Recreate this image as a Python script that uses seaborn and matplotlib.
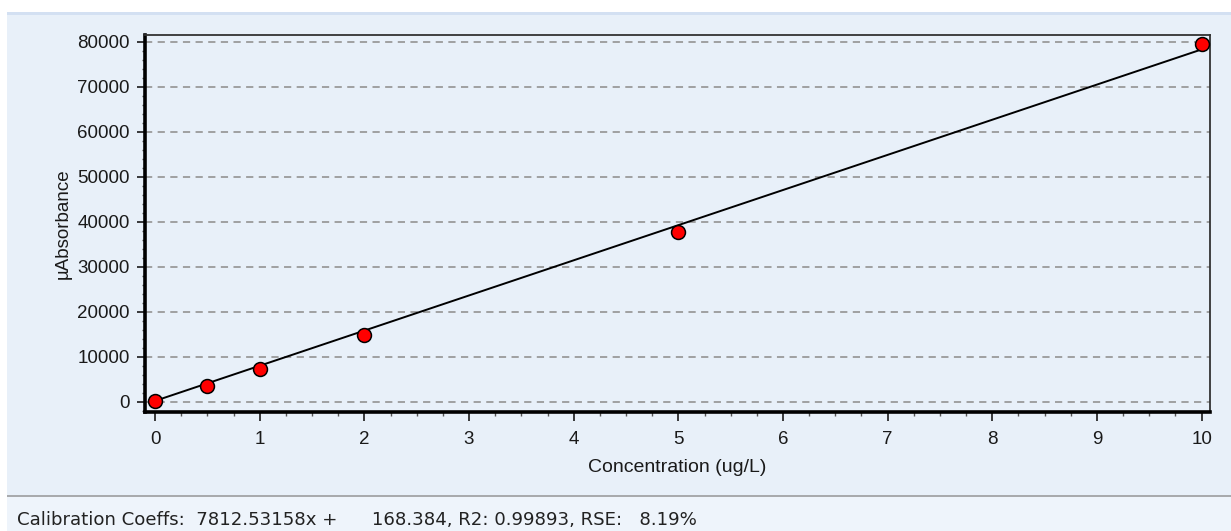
import numpy as np
import pandas as pd
import matplotlib
matplotlib.use("Agg")
import matplotlib.pyplot as plt
from matplotlib.patches import Rectangle
from matplotlib.ticker import MultipleLocator
import seaborn as sns

# ---- data ----
concentration = [0, 0.5, 1, 2, 5, 10]
absorbance = [50, 3400, 7150, 14900, 37800, 79400]
slope = 7812.53158
intercept = 168.384
fit_x = [0, 10]
x_ticks = [0, 1, 2, 3, 4, 5, 6, 7, 8, 9, 10]
y_ticks = [0, 10000, 20000, 30000, 40000, 50000, 60000, 70000, 80000]
x_label = "Concentration (ug/L)"
y_label = "\u00b5Absorbance"
footer = "Calibration Coeffs:  7812.53158x +      168.384, R2: 0.99893, RSE:   8.19%"

pts = pd.DataFrame({"x": concentration, "y": absorbance})
fit = pd.DataFrame({"x": fit_x, "y": [slope * v + intercept for v in fit_x]})

sns.set_style("white")
plt.rcParams["font.family"] = ["Liberation Sans", "DejaVu Sans"]

W, H, DPI = 1231, 531, 100
fig = plt.figure(figsize=(W / DPI, H / DPI), dpi=DPI, facecolor="white")

def px_rect(x0, y0, x1, y1, color):
    fig.patches.append(Rectangle((x0 / W, 1 - y1 / H), (x1 - x0) / W, (y1 - y0) / H,
                                 transform=fig.transFigure, facecolor=color,
                                 edgecolor="none", zorder=-10))

px_rect(7, 12, W, 14.5, "#D3E0F2")
px_rect(7, 14.5, W, 495, "#E8F0F9")
px_rect(7, 495, W, 497, "#A8AAAD")
px_rect(7, 497, W, H, "#EEF4FB")

ax = fig.add_axes([145 / W, 1 - 412 / H, (1210 - 145) / W, (412 - 35) / H])
ax.set_zorder(5)
ax.set_facecolor("none")

sns.lineplot(data=fit, x="x", y="y", ax=ax, color="black", linewidth=1.4, zorder=3)
sns.scatterplot(data=pts, x="x", y="y", ax=ax, color="#FF0000", edgecolor="black",
                linewidth=1.1, s=100, zorder=4)

ax.set_xlim(-0.096, 10.08)
ax.set_ylim(-2300, 81500)
ax.set_xticks(x_ticks)
ax.set_xticklabels([str(v) for v in x_ticks])
ax.set_yticks(y_ticks)
ax.set_yticklabels([str(v) for v in y_ticks])
ax.xaxis.set_minor_locator(MultipleLocator(0.25))
ax.yaxis.set_minor_locator(MultipleLocator(2000))

ax.yaxis.grid(True, which="major", color="#9A9A9A", linestyle=(0, (4, 3)), linewidth=1.3)
ax.xaxis.grid(False)
ax.set_axisbelow(True)

for side in ["left", "bottom"]:
    ax.spines[side].set_color("black")
    ax.spines[side].set_linewidth(2.6)
for side in ["top", "right"]:
    ax.spines[side].set_color("#333333")
    ax.spines[side].set_linewidth(1.3)
    ax.spines[side].set_visible(True)

ax.tick_params(axis="both", which="major", labelsize=13.5, colors="#1A1A1A")
ax.tick_params(axis="y", which="major", direction="out", length=6, width=1.2, pad=5, left=True)
ax.tick_params(axis="y", which="minor", direction="out", length=2.5, width=1.0, left=True, color="#555555")
ax.tick_params(axis="x", which="major", direction="out", length=6.5, width=1.2, pad=7, bottom=True)
ax.tick_params(axis="x", which="minor", direction="out", length=3, width=1.0, bottom=True, color="#555555")

ax.set_xlabel(x_label, fontsize=14, color="#1A1A1A", labelpad=8)
ax.set_ylabel(y_label, fontsize=13.5, color="#1A1A1A", labelpad=4)

# footer text, fitted to the measured width
t = fig.text(17 / W, 1 - 525 / H, footer, fontsize=12, color="#222222",
             family=["DejaVu Sans"], ha="left", va="baseline")
fig.canvas.draw()
w = t.get_window_extent(renderer=fig.canvas.get_renderer()).width
t.set_fontsize(12 * 678 / w)

fig.savefig("out.png", dpi=DPI, facecolor="white")
